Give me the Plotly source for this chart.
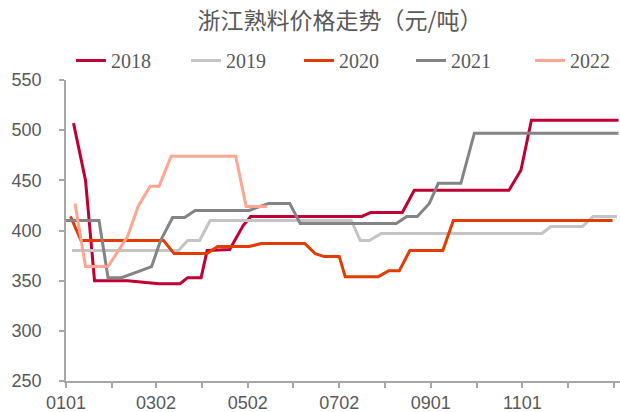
import plotly.graph_objects as go

# price data (元/吨), dates as month-day on a shared dummy year
dates_2018 = ["2001-01-06", "2001-01-14", "2001-01-20", "2001-02-11", "2001-03-04", "2001-03-18",
              "2001-03-23", "2001-04-01", "2001-04-05", "2001-04-20", "2001-04-29", "2001-05-04",
              "2001-07-17", "2001-07-23", "2001-08-13", "2001-08-21", "2001-10-23", "2001-10-31",
              "2001-11-07", "2002-01-04"]
vals_2018 = [507, 450, 350, 350, 347, 347, 353, 353, 380, 381, 405, 414,
             414, 418, 418, 440, 440, 460, 510, 510]

dates_2019 = ["2001-01-05", "2001-03-17", "2001-03-23", "2001-03-31", "2001-04-07", "2001-07-10",
              "2001-07-16", "2001-07-22", "2001-07-30", "2001-11-14", "2001-11-20", "2001-12-11",
              "2001-12-18", "2002-01-03"]
vals_2019 = [380, 380, 390, 390, 410, 410, 390, 390, 397, 397, 404, 404, 414, 414]

dates_2020 = ["2001-01-04", "2001-01-11", "2001-03-07", "2001-03-14", "2001-04-05", "2001-04-12",
              "2001-05-03", "2001-05-11", "2001-06-09", "2001-06-16", "2001-06-22", "2001-07-02",
              "2001-07-06", "2001-07-28", "2001-08-04", "2001-08-11", "2001-08-18", "2001-09-09",
              "2001-09-16", "2001-12-31"]
vals_2020 = [414, 390, 390, 377, 377, 384, 384, 387, 387, 377, 374, 374,
             354, 354, 360, 360, 380, 380, 410, 410]

dates_2021 = ["2001-01-01", "2001-01-23", "2001-01-29", "2001-02-07", "2001-02-27", "2001-03-05",
              "2001-03-13", "2001-03-21", "2001-03-28", "2001-05-03", "2001-05-16", "2001-05-30",
              "2001-06-06", "2001-08-09", "2001-08-16", "2001-08-23", "2001-08-31", "2001-09-06",
              "2001-09-21", "2001-09-30", "2002-01-04"]
vals_2021 = [410, 410, 353, 353, 364, 390, 413, 413, 420, 420, 427, 427,
             407, 407, 414, 414, 427, 447, 447, 497, 497]

dates_2022 = ["2001-01-07", "2001-01-14", "2001-01-29", "2001-02-11", "2001-02-18", "2001-02-26",
              "2001-03-04", "2001-03-12", "2001-04-24", "2001-05-01", "2001-05-15"]
vals_2022 = [427, 364, 364, 394, 424, 444, 444, 474, 474, 424, 424]

tick_dates = ["2001-01-01", "2001-01-31 10:00", "2001-03-02", "2001-04-01 10:00", "2001-05-02",
              "2001-06-01 10:00", "2001-07-02", "2001-08-01 10:00", "2001-09-01",
              "2001-10-01 10:00", "2001-11-01", "2001-12-01 10:00", "2002-01-01"]
tick_labels = ["0101", "", "0302", "", "0502", "", "0702", "", "0901", "", "1101", "", ""]

series = [
    ("2018", dates_2018, vals_2018, "#C00032"),
    ("2019", dates_2019, vals_2019, "#C4C4C4"),
    ("2020", dates_2020, vals_2020, "#E23C00"),
    ("2021", dates_2021, vals_2021, "#848484"),
    ("2022", dates_2022, vals_2022, "#FFA591"),
]

# one legend per series so each key sits where the original puts it
legend_left_px = [71, 186, 299, 411, 530]

fig = go.Figure()
legend_layout = {}
for i, (name, xs, ys, color) in enumerate(series):
    key = "legend" if i == 0 else f"legend{i + 1}"
    fig.add_trace(go.Scatter(x=xs, y=ys, name=name, mode="lines", legend=key,
                             line=dict(color=color, width=3)))
    legend_layout[key] = dict(
        orientation="h", xref="container", yref="container",
        x=legend_left_px[i] / 620, xanchor="left", y=1 - 60.5 / 412, yanchor="middle",
        font=dict(family="Liberation Serif", size=20, color="#595959"),
        bgcolor="rgba(0,0,0,0)",
    )

axis_gray = "#A6A6A6"
tick_font = dict(family="Liberation Sans, Arial", size=18, color="#595959")

fig.update_layout(
    width=620, height=412,
    margin=dict(l=66, r=0, t=75, b=31),
    plot_bgcolor="white", paper_bgcolor="white",
    title=dict(text="浙江熟料价格走势（元/吨）", xref="container", x=340 / 620, xanchor="center",
               yref="container", y=1 - 21 / 412, yanchor="middle",
               font=dict(family="Noto Sans CJK SC", size=23, color="#595959")),
    showlegend=True,
    **legend_layout,
)

fig.update_xaxes(
    type="date", range=["2001-01-01", "2002-01-05"], automargin=False,
    tickvals=tick_dates, ticktext=tick_labels,
    showline=True, linecolor=axis_gray, linewidth=1.5,
    ticks="outside", ticklen=5, tickcolor=axis_gray, tickwidth=1.5,
    showgrid=False, zeroline=False, tickfont=tick_font, ticklabelstandoff=0,
)
fig.update_yaxes(
    range=[250, 550], dtick=50, automargin=False,
    showline=True, linecolor=axis_gray, linewidth=1.5,
    ticks="outside", ticklen=5, tickcolor=axis_gray, tickwidth=1.5,
    showgrid=False, zeroline=False, tickfont=tick_font, ticklabelstandoff=14,
)

# drop the browser's default body margin so the figure sits at the window's corner
fig.write_html("out.html", config={"displayModeBar": False},
               post_script="document.body.style.margin = '0';")
